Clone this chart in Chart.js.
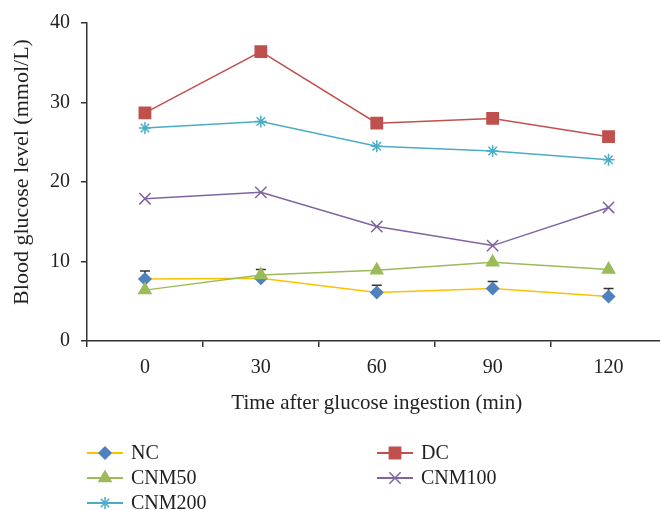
<!DOCTYPE html>
<html>
<head>
<meta charset="utf-8">
<script src="https://cdn.jsdelivr.net/npm/chart.js@4"></script>
<style>
  html, body { margin: 0; padding: 0; background: #fff; overflow: hidden; }
  #clip { width: 660px; height: 510px; overflow: hidden; position: relative; }
  #wrap { width: 676px; height: 510px; position: relative; }
</style>
</head>
<body>
<div id="clip"><div id="wrap"><canvas id="chart"></canvas></div></div>
<script>
/* Data */
const times = ['0', '30', '60', '90', '120'];
const nc = [7.8, 7.9, 6.1, 6.6, 5.6];
const ncErr = [1.0, 1.1, 0.9, 0.9, 1.0];
const dc = [28.7, 36.4, 27.4, 28.0, 25.7];
const cnm50 = [6.4, 8.3, 8.9, 9.9, 9.0];
const cnm100 = [17.9, 18.7, 14.4, 12.0, 16.8];
const cnm200 = [26.8, 27.6, 24.5, 23.9, 22.8];

const SERIF = '"Liberation Serif", "DejaVu Serif", serif';
const AXIS = '#333';
Chart.defaults.font.family = SERIF;
Chart.defaults.color = '#222';

/* Error bars (upper only) for NC */
const errorBars = {
  id: 'errorBars',
  beforeDatasetsDraw(chart) {
    const meta = chart.getDatasetMeta(0);
    const y = chart.scales.y;
    const ctx = chart.ctx;
    ctx.save();
    ctx.strokeStyle = AXIS;
    ctx.lineWidth = 1.5;
    meta.data.forEach((pt, i) => {
      const top = y.getPixelForValue(nc[i] + ncErr[i]);
      ctx.beginPath();
      ctx.moveTo(pt.x, pt.y);
      ctx.lineTo(pt.x, top);
      ctx.moveTo(pt.x - 5, top);
      ctx.lineTo(pt.x + 5, top);
      ctx.stroke();
    });
    ctx.restore();
  }
};

/* Y axis title, drawn by hand so it sits where the original has it */
const yTitle = {
  id: 'yTitle',
  afterDraw(chart) {
    const ctx = chart.ctx;
    ctx.save();
    ctx.translate(22, 172);
    ctx.rotate(-Math.PI / 2);
    ctx.fillStyle = '#222';
    ctx.font = '22px ' + SERIF;
    ctx.textAlign = 'center';
    ctx.textBaseline = 'middle';
    ctx.fillText('Blood glucose level (mmol/L)', 0, 0);
    ctx.restore();
  }
};

/* Legend: line + marker, two columns */
const legendSlots = [[105, 453], [395, 453], [105, 478], [395, 478], [105, 503]];
const lineLegend = {
  id: 'lineLegend',
  afterDraw(chart) {
    const ctx = chart.ctx;
    chart.data.datasets.forEach((ds, i) => {
      const [cx, cy] = legendSlots[i];
      ctx.save();
      ctx.strokeStyle = ds.borderColor;
      ctx.lineWidth = 2;
      ctx.beginPath();
      ctx.moveTo(cx - 18, cy);
      ctx.lineTo(cx + 18, cy);
      ctx.stroke();
      ctx.fillStyle = ds.pointBackgroundColor;
      ctx.strokeStyle = ds.pointBorderColor;
      ctx.lineWidth = ds.pointBorderWidth;
      Chart.helpers.drawPoint(ctx, {
        pointStyle: ds.pointStyle,
        radius: ds.pointRadius,
        borderWidth: ds.pointBorderWidth,
        rotation: 0
      }, cx, cy);
      ctx.fillStyle = '#222';
      ctx.font = '20px ' + SERIF;
      ctx.textBaseline = 'middle';
      ctx.textAlign = 'left';
      ctx.fillText(ds.label, cx + 26, cy + 1);
      ctx.restore();
    });
  }
};

function series(label, data, line, marker, style, radius, order) {
  return {
    label,
    data,
    borderColor: line,
    borderWidth: 1.5,
    pointStyle: style,
    pointRadius: radius,
    pointHoverRadius: radius,
    pointBackgroundColor: marker,
    pointBorderColor: marker,
    pointBorderWidth: 1.5,
    tension: 0,
    fill: false,
    order
  };
}

new Chart(document.getElementById('chart'), {
  type: 'line',
  data: {
    labels: times,
    datasets: [
      series('NC', nc, '#FFC000', '#4F81BD', 'rectRot', 6, 5),
      series('DC', dc, '#C0504D', '#C0504D', 'rect', 8, 4),
      series('CNM50', cnm50, '#9BBB59', '#9BBB59', 'triangle', 7, 3),
      series('CNM100', cnm100, '#8064A2', '#8064A2', 'crossRot', 8, 2),
      series('CNM200', cnm200, '#4BACC6', '#4BACC6', 'star', 6, 1)
    ]
  },
  options: {
    responsive: true,
    maintainAspectRatio: false,
    animation: false,
    layout: { padding: { top: 22, right: -7, bottom: 79, left: 0 } },
    plugins: {
      legend: { display: false },
      tooltip: { enabled: false }
    },
    scales: {
      x: {
        offset: true,
        grid: { offset: true, drawOnChartArea: false, drawTicks: true, tickLength: 6, color: AXIS, lineWidth: 1.5 },
        border: { color: AXIS, width: 1.5 },
        ticks: { font: { size: 20 }, padding: 9, color: '#222' },
        title: {
          display: true,
          text: 'Time after glucose ingestion (min)',
          font: { size: 21 },
          color: '#222',
          padding: { top: 0, bottom: 15 }
        },
        afterFit: s => { s.height = 90; }
      },
      y: {
        min: 0,
        max: 40,
        grid: { drawOnChartArea: false, drawTicks: true, tickLength: 6, color: AXIS, lineWidth: 1.5 },
        border: { color: AXIS, width: 1.5 },
        ticks: { stepSize: 10, font: { size: 20 }, padding: 11, color: '#222' },
        afterFit: s => { s.width = 87; }
      }
    }
  },
  plugins: [errorBars, yTitle, lineLegend]
});
</script>
</body>
</html>
